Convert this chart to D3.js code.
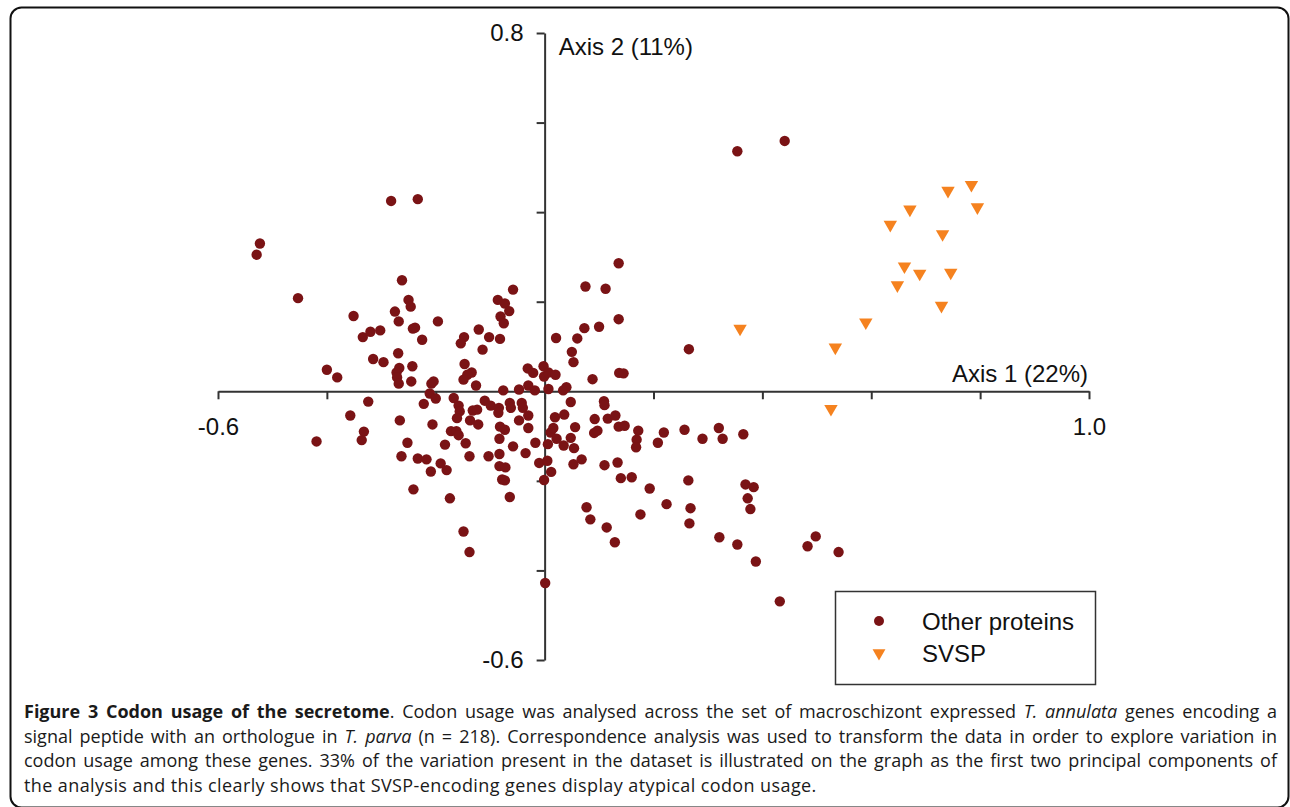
<!DOCTYPE html>
<html>
<head>
<meta charset="utf-8">
<script src="https://cdn.jsdelivr.net/npm/d3@7"></script>
<style>
  body { margin: 0; background: #fff; }
  #wrap { position: relative; width: 1290px; height: 807px; overflow: hidden; }
  svg { position: absolute; left: 0; top: 0; }
  .cap { position: absolute; left: 24px; width: 1253px; font-family: "Open Sans", sans-serif;
         font-size: 18px; color: #1a1a1a; white-space: nowrap; line-height: 20px; letter-spacing: 0.4px; }
  .cap.just { text-align: justify; text-align-last: justify; white-space: normal; height: 20px; letter-spacing: 0; }
  .cap b { font-weight: 700; }
</style>
</head>
<body>
<div id="wrap"></div>
<script>
// ---- data (axis units) ----
const otherX = [
  -0.282,-0.233,-0.523,-0.529,-0.453,-0.262,-0.058,-0.250,-0.246,-0.275,
  -0.268,-0.242,-0.238,-0.225,-0.196,-0.351,-0.334,-0.320,-0.302,-0.315,
  -0.296,-0.269,-0.267,-0.272,-0.271,-0.268,-0.243,-0.245,-0.400,-0.381,
  -0.208,-0.204,-0.148,-0.154,-0.121,-0.102,-0.082,-0.114,-0.086,-0.073,
  -0.065,-0.081,-0.075,-0.147,-0.134,-0.142,-0.149,-0.126,-0.076,-0.047,
  -0.030,-0.018,-0.031,-0.021,-0.002,-0.001,0.007,0.020,0.007,0.040,
  0.034,0.021,0.060,0.050,0.053,0.073,0.100,0.075,0.112,0.136,
  0.136,0.088,0.137,0.145,
  -0.324,-0.357,-0.332,-0.336,-0.419,-0.266,-0.252,-0.222,-0.211,-0.200,
  -0.206,-0.167,-0.158,-0.156,-0.161,-0.137,-0.122,-0.172,-0.162,-0.158,
  -0.145,-0.183,-0.132,-0.124,-0.110,-0.099,-0.084,-0.085,-0.064,-0.062,
  -0.042,-0.040,-0.030,-0.047,-0.030,-0.082,-0.073,-0.083,-0.058,-0.017,
  0.048,0.019,0.036,0.011,0.016,0.056,0.048,0.022,0.006,0.035,
  0.054,0.109,0.110,0.092,0.116,0.130,0.091,0.097,0.136,0.147,
  0.172,0.169,0.168,
  -0.010,0.005,0.012,-0.001,0.001,-0.064,-0.078,-0.083,-0.072,-0.073,
  -0.083,-0.035,
  0.219,0.208,0.257,0.290,0.320,0.327,0.365,0.265,0.354,0.441,
  -0.263,-0.233,-0.217,-0.241,-0.209,-0.191,-0.180,-0.174,-0.138,-0.149,
  -0.138,-0.103,0.053,0.068,0.077,0.084,0.114,0.129,0.110,0.140,
  0.160,0.193,0.224,0.176,0.264,0.268,0.266,0.321,0.354,0.388,
  0.369,0.384,0.373,0.378,0.432,0.483,0.498,0.540,0.134
];
const otherY = [
  0.425,0.429,0.330,0.305,0.208,0.248,0.227,0.204,0.189,0.178,
  0.156,0.140,0.142,0.115,0.156,0.168,0.121,0.133,0.136,0.072,
  0.065,0.085,0.052,0.042,0.031,0.017,0.056,0.022,0.048,0.031,
  0.017,0.022,0.121,0.107,0.138,0.121,0.117,0.093,0.204,0.196,
  0.179,0.167,0.152,0.061,0.042,0.037,0.026,0.013,0.002,0.004,
  0.013,0.002,0.051,0.041,0.056,0.033,0.042,0.037,0.005,0.009,
  0.002,0.119,0.118,0.088,0.065,0.141,0.144,0.234,0.229,0.286,
  0.161,0.027,0.041,0.040,
  -0.023,-0.054,-0.090,-0.109,-0.112,-0.065,-0.115,-0.028,-0.005,-0.016,
  -0.074,-0.015,-0.032,-0.045,-0.060,-0.065,-0.074,-0.089,-0.089,-0.098,
  -0.116,-0.119,-0.043,-0.041,-0.021,-0.032,-0.037,-0.048,-0.026,-0.037,
  -0.026,-0.037,-0.054,-0.065,-0.082,-0.079,-0.086,-0.106,-0.123,-0.115,
  -0.024,-0.058,-0.052,-0.092,-0.082,-0.080,-0.104,-0.106,-0.118,-0.121,
  -0.127,-0.022,-0.031,-0.062,-0.061,-0.054,-0.093,-0.088,-0.079,-0.077,
  -0.088,-0.108,-0.125,
  -0.160,-0.155,-0.180,-0.198,-0.428,-0.236,-0.197,-0.167,-0.170,-0.199,
  -0.140,-0.138,
  -0.092,-0.115,-0.086,-0.106,-0.082,-0.106,-0.096,0.094,0.536,0.559,
  -0.145,-0.150,-0.152,-0.219,-0.179,-0.161,-0.176,-0.239,-0.145,-0.313,
  -0.359,-0.145,-0.163,-0.152,-0.259,-0.286,-0.304,-0.337,-0.165,-0.194,
  -0.192,-0.217,-0.252,-0.275,-0.199,-0.261,-0.295,-0.326,-0.342,-0.380,
  -0.208,-0.214,-0.239,-0.263,-0.469,-0.346,-0.324,-0.359,-0.159
];
const svspX = [0.359,0.534,0.526,0.590,0.648,0.661,0.689,0.746,0.729,0.731,0.635,0.671,0.741,0.784,0.795];
const svspY = [0.140,0.098,-0.039,0.154,0.237,0.279,0.263,0.265,0.191,0.351,0.372,0.406,0.448,0.461,0.411];

const xTicks = [-0.6,-0.4,-0.2,0,0.2,0.4,0.6,0.8,1.0];
const yTicks = [0.8,0.6,0.4,0.2,0,-0.2,-0.4,-0.6];
const xShown = ["-0.6","1.0"];
const yShown = ["0.8","-0.6"];
const xTitle = "Axis 1 (22%)";
const yTitle = "Axis 2 (11%)";
const legendLabels = ["Other proteins", "SVSP"];

const darkRed = "#7a1315";
const orange = "#f5821f";
const axisCol = "#333";
const fmt = (d) => d.toFixed(1); // plain hyphen minus, like the figure

////////////////////////////  svg  ////////////////////////////
const width = 1290, height = 807;
const svg = d3.select("#wrap").append("svg").attr("width", width).attr("height", height);

// figure frame
svg.append("rect")
  .attr("x", 10.5).attr("y", 7.5)
  .attr("width", 1278).attr("height", 800)
  .attr("rx", 11)
  .attr("fill", "none").attr("stroke", "#111").attr("stroke-width", 2);

// scales
const xScale = d3.scaleLinear().domain([-0.6, 1.0]).range([218, 1089]);
const yScale = d3.scaleLinear().domain([-0.6, 0.8]).range([660, 33]);

// axes
const xAxis = d3.axisBottom(xScale)
  .tickValues(xTicks)
  .tickSize(8).tickSizeOuter(0)
  .tickFormat((d) => (xShown.includes(fmt(d)) ? fmt(d) : ""));
const yAxis = d3.axisLeft(yScale)
  .tickValues(yTicks)
  .tickSize(8).tickSizeOuter(0)
  .tickFormat((d) => (yShown.includes(fmt(d)) ? fmt(d) : ""));

const gx = svg.append("g")
  .attr("transform", `translate(0,${yScale(0)})`)
  .call(xAxis);
const gy = svg.append("g")
  .attr("transform", `translate(${xScale(0)},0)`)
  .call(yAxis);

[gx, gy].forEach((g) => {
  g.select(".domain").attr("stroke", axisCol).attr("stroke-width", 2);
  g.selectAll(".tick line").attr("stroke", axisCol).attr("stroke-width", 2);
  g.selectAll(".tick text")
    .attr("fill", "#111")
    .style("font-family", "'Liberation Sans', Arial, sans-serif")
    .style("font-size", "24px");
});
gx.selectAll(".tick text").attr("y", 27).attr("dy", "0.71em");
gy.selectAll(".tick text").attr("x", -21);

// axis titles
svg.append("text")
  .attr("x", xScale(1.0) - 1).attr("y", yScale(0) - 9)
  .attr("text-anchor", "end")
  .style("font-family", "'Liberation Sans', Arial, sans-serif")
  .style("font-size", "24px").attr("fill", "#111")
  .text(xTitle);
svg.append("text")
  .attr("x", xScale(0) + 14).attr("y", yScale(0.8) + 22)
  .style("font-family", "'Liberation Sans', Arial, sans-serif")
  .style("font-size", "24px").attr("fill", "#111")
  .text(yTitle);

// points
const others = otherX.map((x, i) => ({ x, y: otherY[i] }));
const svsp = svspX.map((x, i) => ({ x, y: svspY[i] }));

svg.append("g").selectAll("circle")
  .data(others).join("circle")
  .attr("cx", (d) => xScale(d.x))
  .attr("cy", (d) => yScale(d.y))
  .attr("r", 5.2)
  .attr("fill", darkRed);

const tri = d3.symbol(d3.symbolTriangle, 78);
svg.append("g").selectAll("path")
  .data(svsp).join("path")
  .attr("d", tri)
  .attr("transform", (d) => `translate(${xScale(d.x)},${yScale(d.y)}) rotate(180)`)
  .attr("fill", orange);

// legend
const legend = svg.append("g").attr("transform", "translate(835,591)");
legend.append("rect")
  .attr("x", 0.5).attr("y", 0.5)
  .attr("width", 260).attr("height", 93)
  .attr("fill", "#fff").attr("stroke", axisCol).attr("stroke-width", 1.5);
legend.append("circle").attr("cx", 44).attr("cy", 30).attr("r", 5).attr("fill", darkRed);
legend.append("path")
  .attr("d", d3.symbol(d3.symbolTriangle, 72))
  .attr("transform", "translate(44,62) rotate(180)")
  .attr("fill", orange);
legend.selectAll("text.lab")
  .data(legendLabels).join("text")
  .attr("class", "lab")
  .attr("x", 87)
  .attr("y", (d, i) => 39 + i * 32)
  .style("font-family", "'Liberation Sans', Arial, sans-serif")
  .style("font-size", "24px").attr("fill", "#111")
  .text((d) => d);

////////////////////////////  caption  ////////////////////////////
const capLines = [
  '<b>Figure 3 Codon usage of the secretome</b>. Codon usage was analysed across the set of macroschizont expressed <i>T. annulata</i> genes encoding a',
  'signal peptide with an orthologue in <i>T. parva</i> (n = 218). Correspondence analysis was used to transform the data in order to explore variation in',
  'codon usage among these genes. 33% of the variation present in the dataset is illustrated on the graph as the first two principal components of',
  'the analysis and this clearly shows that SVSP-encoding genes display atypical codon usage.'
];
d3.select("#wrap").selectAll("div.cap")
  .data(capLines).join("div")
  .attr("class", (d, i) => (i < capLines.length - 1 ? "cap just" : "cap"))
  .style("top", (d, i) => `${701 + i * 24.5}px`)
  .html((d) => d);
</script>
</body>
</html>
